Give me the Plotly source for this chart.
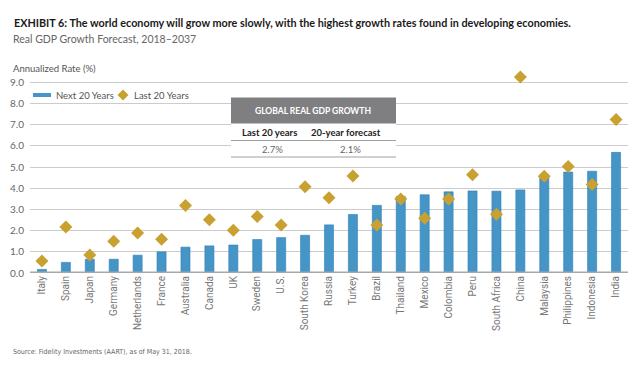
import plotly.graph_objects as go

countries = ["Italy", "Spain", "Japan", "Germany", "Netherlands", "France", "Australia",
             "Canada", "UK", "Sweden", "U.S.", "South Korea", "Russia", "Turkey", "Brazil",
             "Thailand", "Mexico", "Colombia", "Peru", "South Africa", "China", "Malaysia",
             "Philippines", "Indonesia", "India"]
next_20 = [0.17, 0.5, 0.65, 0.65, 0.84, 1.0, 1.22, 1.28, 1.32, 1.58, 1.67, 1.78, 2.27,
           2.76, 3.19, 3.61, 3.69, 3.83, 3.87, 3.86, 3.92, 4.52, 4.76, 4.80, 5.69]
last_20 = [0.57, 2.17, 0.85, 1.5, 1.89, 1.59, 3.18, 2.51, 2.02, 2.67, 2.27, 4.07, 3.55,
           4.58, 2.27, 3.49, 2.58, 3.49, 4.63, 2.77, 9.25, 4.56, 5.02, 4.17, 7.24]
y_ticks = [0, 1, 2, 3, 4, 5, 6, 7, 8, 9]
y_ticklabels = ["0.0", "1.0", "2.0", "3.0", "4.0", "5.0", "6.0", "7.0", "8.0", "9.0"]
series_names = ["Next 20 Years", "Last 20 Years"]
table_title = "GLOBAL REAL GDP GROWTH"
table_cols = ["Last 20 years", "20-year forecast"]
table_vals = ["2.7%", "2.1%"]

W, H = 640, 369
L, R, T, B = 30, 12, 74, 96
PW, PH = W - L - R, H - T - B

def px(x):
    return (x - L) / PW

def py(y):
    return (H - B - y) / PH

BLUE = "#4596c6"
GOLD = "#c9a131"
FONT = "Lato"

fig = go.Figure()
fig.add_trace(go.Bar(x=countries, y=next_20, marker=dict(color=BLUE, line=dict(color="#2f80b8", width=0.6)),
                     width=0.38, name=series_names[0]))
fig.add_trace(go.Scatter(x=countries, y=last_20, mode="markers", name=series_names[1],
                         marker=dict(symbol="diamond", size=10, color=GOLD), cliponaxis=False))

fig.update_layout(
    width=W, height=H, margin=dict(l=L, r=R, t=T, b=B, autoexpand=False),
    paper_bgcolor="white", plot_bgcolor="white",
    font=dict(family=FONT, size=10, color="#666"),
    showlegend=False,
    xaxis=dict(tickangle=-90, tickfont=dict(size=10, color="#777", family="Roboto"),
               showgrid=False, ticks="", range=[-0.5, len(countries) - 0.5], automargin=False),
    yaxis=dict(range=[0, PH / 21.2], tickvals=y_ticks, ticktext=y_ticklabels,
               showgrid=True, gridcolor="#cccccc", gridwidth=1.2, zeroline=False,
               tickfont=dict(size=10, color="#666"), ticks="", ticklabelstandoff=5,
               automargin=False),
    bargap=0.6,
)

# baseline
fig.add_shape(type="line", xref="paper", yref="y", x0=0, x1=1, y0=0, y1=0,
              line=dict(color="#a8a8a8", width=3), layer="above")

# legend (manual, compact)
fig.add_shape(type="rect", xref="paper", yref="paper", x0=px(33), x1=px(51), y0=py(97), y1=py(93),
              fillcolor=BLUE, line=dict(width=0), layer="above")
cx, cy, d = 123, 95, 5.5
fig.add_shape(type="path", xref="paper", yref="paper",
              path=f"M {px(cx - d)} {py(cy)} L {px(cx)} {py(cy - d)} L {px(cx + d)} {py(cy)} L {px(cx)} {py(cy + d)} Z",
              fillcolor=GOLD, line=dict(width=0), layer="above")

# inset table
x0, x1 = px(231), px(396)
fig.add_shape(type="rect", xref="paper", yref="paper", x0=x0, x1=x1, y0=py(158), y1=py(123),
              fillcolor="white", line=dict(width=0), layer="above")
fig.add_shape(type="rect", xref="paper", yref="paper", x0=x0, x1=x1, y0=py(123.5), y1=py(97.5),
              fillcolor="#7f7f82", line=dict(width=0), layer="above")
for yy in (140.5, 157):
    fig.add_shape(type="line", xref="paper", yref="paper", x0=x0, x1=x1, y0=py(yy), y1=py(yy),
                  line=dict(color="#a0a0a0", width=1), layer="above")

ann = []
ann.append(dict(text="<b>" + table_title + "</b>", x=px(313), y=py(111), font=dict(size=8.5, color="white", family=FONT)))
ann.append(dict(text="<b>" + table_cols[0] + "</b>", x=px(269), y=py(132.5), font=dict(size=9.5, color="#222", family=FONT)))
ann.append(dict(text="<b>" + table_cols[1] + "</b>", x=px(346), y=py(132.5), font=dict(size=9.5, color="#222", family=FONT)))
ann.append(dict(text=table_vals[0], x=px(272), y=py(149.5), font=dict(size=9.5, color="#666", family=FONT)))
ann.append(dict(text=table_vals[1], x=px(350), y=py(149.5), font=dict(size=9.5, color="#666", family=FONT)))
for a in ann:
    a.update(xanchor="center")

left = [
    dict(text="<b>EXHIBIT 6: The world economy will grow more slowly, with the highest growth rates found in developing economies.</b>",
         x=px(12), y=py(23), font=dict(size=10.8, color="#1a1a1a", family=FONT)),
    dict(text="Real GDP Growth Forecast, 2018–2037", x=px(11), y=py(39), font=dict(size=10.5, color="#666", family=FONT)),
    dict(text="Annualized Rate (%)", x=px(11), y=py(68), font=dict(size=9.5, color="#555", family=FONT)),
    dict(text=series_names[0], x=px(54), y=py(95), font=dict(size=9.5, color="#555", family=FONT)),
    dict(text=series_names[1], x=px(132), y=py(95), font=dict(size=9.5, color="#555", family=FONT)),
    dict(text="Source: Fidelity Investments (AART), as of May 31, 2018.", x=px(11), y=py(352),
         font=dict(size=7, color="#666", family="DejaVu Sans Condensed, Roboto")),
]
for a in left:
    a.update(xanchor="left")

allann = ann + left
for a in allann:
    a.update(xref="paper", yref="paper", showarrow=False, yanchor="middle")

fig.update_layout(annotations=allann)
fig.write_html("out.html", config={"displayModeBar": False},
               post_script="document.body.style.margin='0';")
